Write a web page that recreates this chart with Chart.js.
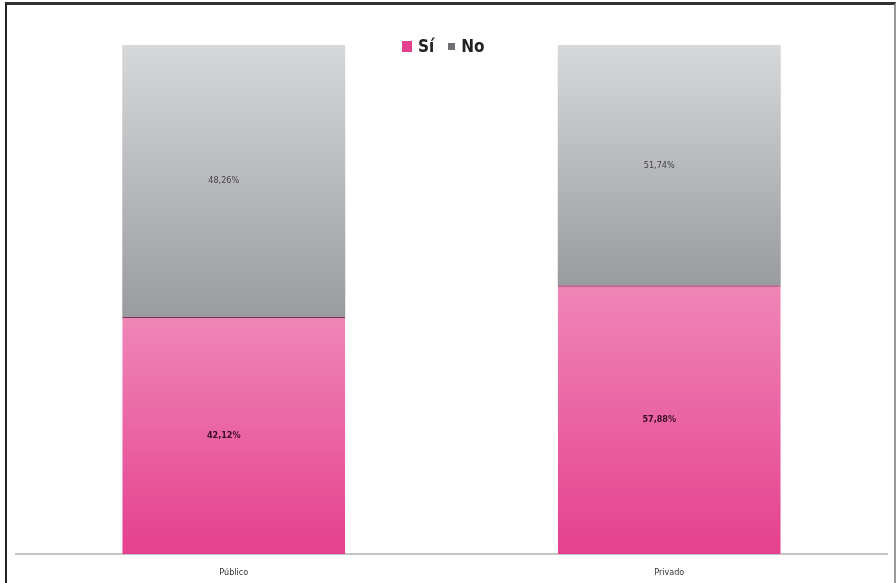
<!DOCTYPE html>
<html>
<head>
<meta charset="utf-8">
<script src="https://cdn.jsdelivr.net/npm/chart.js@4"></script>
<style>
  html, body { margin: 0; padding: 0; background: #fff; overflow: hidden; }
  #frame { position: absolute; left: 5px; top: 2px; width: 887px; height: 600px;
           border-left: 2px solid #222; border-top: 3px solid #333; border-right: 2px solid #9a9a9a; }
  #wrap { position: absolute; left: 0; top: 0; width: 896px; height: 598px; }
  #legend { position: absolute; left: 402px; top: 36px; display: flex; align-items: center;
            font-family: "DejaVu Sans Condensed", "DejaVu Sans", sans-serif; font-weight: bold;
            font-size: 17px; color: #222; }
  #legend span.box { display: inline-block; margin-right: 6px; }
  #legend span.item { display: flex; align-items: center; margin-right: 14px; }
</style>
</head>
<body>
<div id="frame"></div>
<div id="wrap"><canvas id="myChart" width="896" height="598"></canvas></div>
<div id="legend"></div>
<script>
'use strict';

var categories = ['Público', 'Privado'];
var seriesNames = ['Sí', 'No'];
var siValues = [42.12, 57.88];
var noValues = [48.26, 51.74];

// share of each bar (100% stacked)
function share(vals, others) {
  return vals.map(function (v, i) { return v / (v + others[i]) * 100; });
}

function fmt(v) { return v.toFixed(2).replace('.', ',') + '%'; }

var siShare = share(siValues, noValues);
var noShare = share(noValues, siValues);

// vertical gradient over each segment, taken from the y scale
function gradFill(top, bottom, fallback) {
  return function (ctx) {
    var chart = ctx.chart;
    var y = chart.scales.y;
    if (!chart.chartArea || !y || ctx.dataIndex === undefined) return fallback;
    var start = ctx.datasetIndex === 0 ? 0 : siShare[ctx.dataIndex];
    var end = ctx.datasetIndex === 0 ? siShare[ctx.dataIndex] : 100;
    var y0 = y.getPixelForValue(end), y1 = y.getPixelForValue(start);
    if (!isFinite(y0) || !isFinite(y1)) return fallback;
    var g = chart.ctx.createLinearGradient(0, y0, 0, y1);
    g.addColorStop(0, top);
    g.addColorStop(1, bottom);
    return g;
  };
}

var labelPlugin = {
  id: 'segLabels',
  afterDatasetsDraw: function (chart) {
    var c = chart.ctx;
    var raw = [siValues, noValues];
    chart.data.datasets.forEach(function (ds, di) {
      chart.getDatasetMeta(di).data.forEach(function (el, i) {
        c.save();
        c.font = (di === 0 ? 'bold ' : '') + '9px "DejaVu Sans Condensed", sans-serif';
        c.fillStyle = di === 0 ? '#3a0c22' : '#444';
        c.textAlign = 'center';
        c.textBaseline = 'middle';
        c.fillText(fmt(raw[di][i]), el.x - 10, (el.y + el.base) / 2);
        c.restore();
      });
    });
  }
};

var ctx = document.getElementById('myChart').getContext('2d');

var chart = new Chart(ctx, {
  type: 'bar',
  data: {
    labels: categories,
    datasets: [{
      label: seriesNames[0],
      data: siShare,
      backgroundColor: gradFill('#ef86b6', '#e5408f', '#ea5fa0'),
      borderColor: '#8e2a58',
      borderWidth: { top: 1.5, left: 0, right: 0, bottom: 0 },
      borderSkipped: false
    }, {
      label: seriesNames[1],
      data: noShare,
      backgroundColor: gradFill('#d6d8da', '#999b9e', '#b8babc'),
      borderWidth: 0
    }]
  },
  options: {
    responsive: false,
    animation: false,
    layout: { padding: { top: 45, left: 16, right: 9, bottom: 7 } },
    plugins: { legend: { display: false }, tooltip: { enabled: false } },
    datasets: { bar: { categoryPercentage: 1, barPercentage: 0.512 } },
    scales: {
      x: {
        stacked: true,
        grid: { display: false, drawTicks: false },
        border: { display: true, color: '#c4c4c4', width: 2 },
        ticks: { padding: 13, color: '#333', font: { size: 9, family: '"DejaVu Sans Condensed", sans-serif' } }
      },
      y: { stacked: true, display: false, min: 0, max: 100 }
    }
  },
  plugins: [labelPlugin]
});

// legend
var legendColors = ['#e3418f', '#6d6f72'];
var legendSizes = [[10, 11], [7, 7]];
var lg = document.getElementById('legend');
seriesNames.forEach(function (name, i) {
  var item = document.createElement('span');
  item.className = 'item';
  var box = document.createElement('span');
  box.className = 'box';
  box.style.background = legendColors[i];
  box.style.width = legendSizes[i][0] + 'px';
  box.style.height = legendSizes[i][1] + 'px';
  item.appendChild(box);
  item.appendChild(document.createTextNode(name));
  lg.appendChild(item);
});
</script>
</body>
</html>
